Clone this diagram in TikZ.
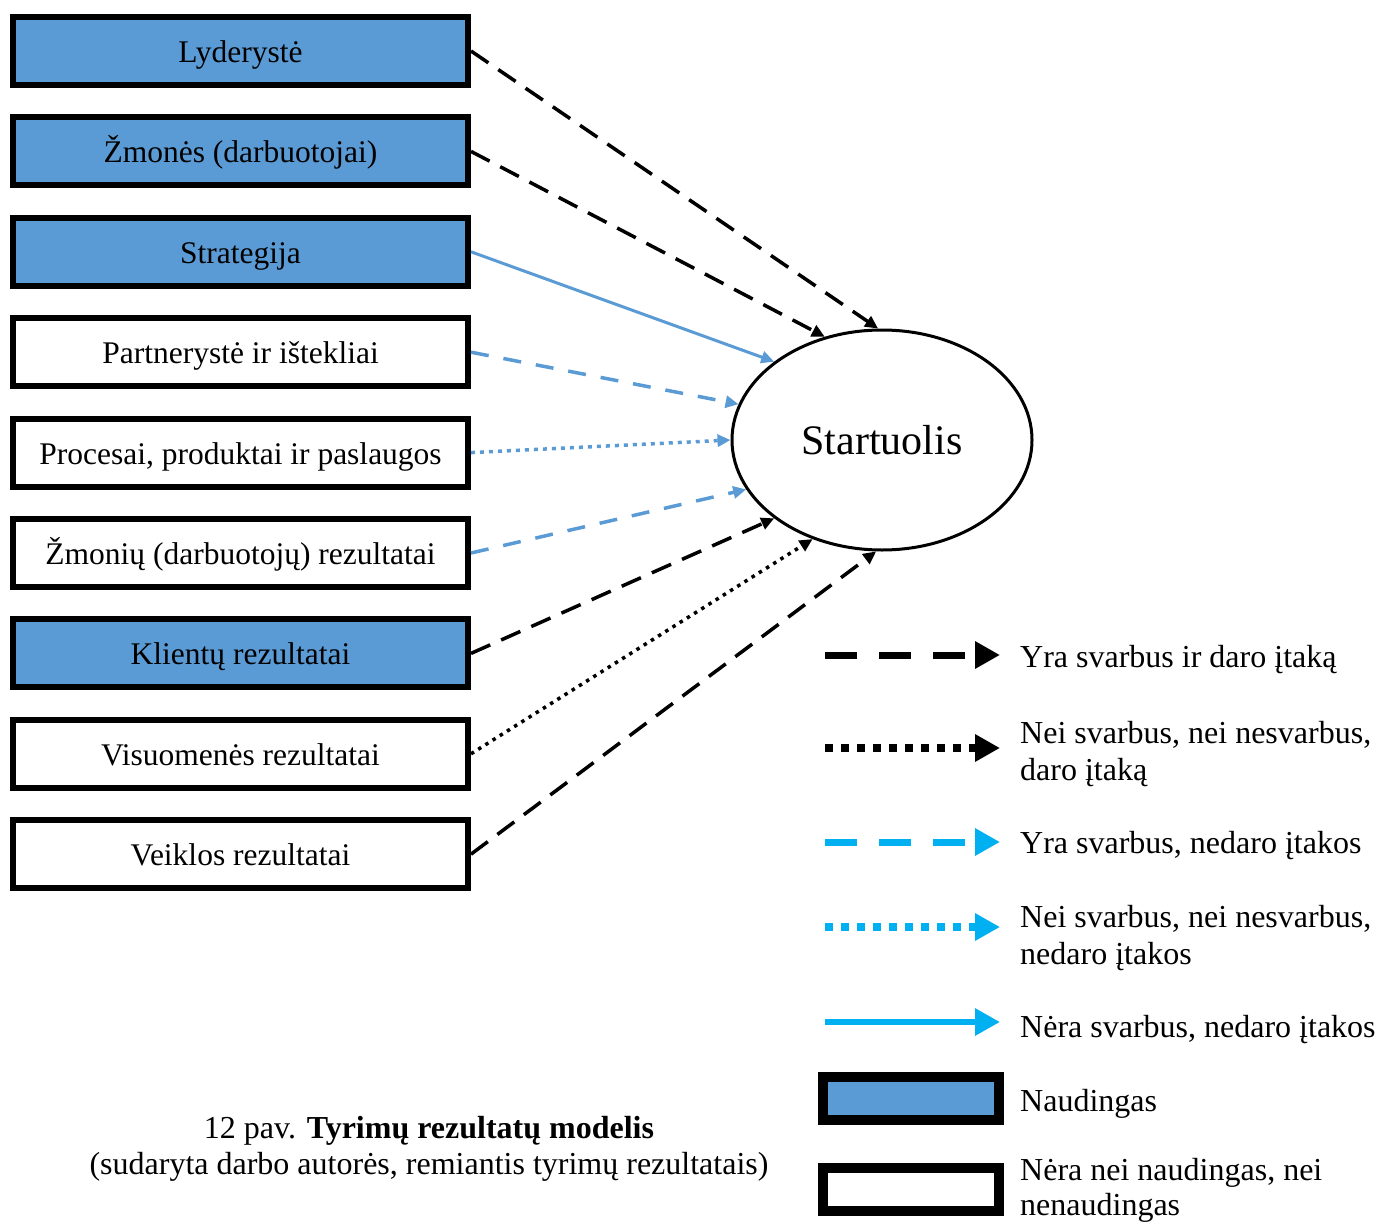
\documentclass[tikz,border=0pt]{standalone}
\usepackage{fontspec}
\setmainfont{Liberation Serif}
\usetikzlibrary{arrows.meta,shapes.geometric}
\definecolor{boxblue}{HTML}{5B9BD5}
\definecolor{linkblue}{HTML}{5B9BD5}
\definecolor{keyblue}{HTML}{00B0F0}
\begin{document}
\begin{tikzpicture}[x=1pt,y=-1pt,
  factor/.style={draw=black, line width=6pt, rectangle, minimum width=455pt,
    minimum height=68pt, inner sep=0pt, text height=29pt, text depth=6pt,
    font=\fontsize{31.5}{36}\selectfont},
  useful/.style={factor, fill=boxblue},
  neutral/.style={factor, fill=white},
  startup/.style={draw=black, line width=3pt, ellipse, minimum width=300pt,
    minimum height=220pt, inner sep=0pt, font=\fontsize{42}{48}\selectfont},
  tipsmall/.style={-{Triangle[length=13pt,width=12pt]}},
  impdash/.style={tipsmall, draw=black, line width=3.5pt, dash pattern=on 21pt off 12pt},
  impdot/.style={tipsmall, draw=black, line width=3.5pt, dash pattern=on 3.5pt off 5pt},
  nodash/.style={tipsmall, draw=linkblue, line width=3.5pt, dash pattern=on 18pt off 15pt},
  nodot/.style={tipsmall, draw=linkblue, line width=3.5pt, dash pattern=on 4pt off 5pt},
  nosolid/.style={tipsmall, draw=linkblue, line width=3pt},
  tipbig/.style={-{Triangle[length=25pt,width=26pt]}},
  keyline/.style={tipbig, line width=7pt},
  keytext/.style={anchor=west, align=left, inner sep=0pt,
    font=\fontsize{32}{37}\selectfont},
  keybox/.style={draw=black, line width=10pt, rectangle, minimum width=176pt,
    minimum height=43pt, inner sep=0pt}
]
\useasboundingbox (0,0) rectangle (1378,1225);

% factor boxes
\node[useful]  (b1) at (240.5,51)    {Lyderystė};
\node[useful]  (b2) at (240.5,151.4) {Žmonės (darbuotojai)};
\node[useful]  (b3) at (240.5,251.8) {Strategija};
\node[neutral] (b4) at (240.5,352.2) {Partnerystė ir ištekliai};
\node[neutral] (b5) at (240.5,452.6) {Procesai, produktai ir paslaugos};
\node[neutral] (b6) at (240.5,553)   {Žmonių (darbuotojų) rezultatai};
\node[useful]  (b7) at (240.5,653.4) {Klientų rezultatai};
\node[neutral] (b8) at (240.5,753.8) {Visuomenės rezultatai};
\node[neutral] (b9) at (240.5,854.2) {Veiklos rezultatai};

% central node
\node[startup] (st) at (882,440) {\raisebox{-2pt}{Startuolis}};

% connectors
\draw[impdash] (b1.east) -- (st.92);
\draw[impdash] (b2.east) -- (st.119);
\draw[nosolid] (b3.east) -- (st.144);
\draw[nodash]  (b4.east) -- (st.166);
\draw[nodot]   (b5.east) -- (st.180);
\draw[nodash]  (b6.east) -- (st.200);
\draw[impdash] (b7.east) -- (st.216);
\draw[impdot]  (b8.east) -- (st.235);
\draw[impdash] (b9.east) -- (st.267);

% legend
\coordinate (k1a) at (825,655);  \coordinate (k1b) at (1000,655);
\coordinate (k2a) at (825,748);  \coordinate (k2b) at (1000,748);
\coordinate (k3a) at (825,842);  \coordinate (k3b) at (1000,842);
\coordinate (k4a) at (825,927);  \coordinate (k4b) at (1000,927);
\coordinate (k5a) at (825,1022); \coordinate (k5b) at (1000,1022);
\draw[keyline, draw=black, dash pattern=on 32pt off 22pt] (k1a) -- (k1b);
\draw[keyline, draw=black, line width=8pt, dash pattern=on 8pt off 8pt] (k2a) -- (k2b);
\draw[keyline, draw=keyblue, dash pattern=on 32pt off 22pt] (k3a) -- (k3b);
\draw[keyline, draw=keyblue, line width=8pt, dash pattern=on 8pt off 8pt] (k4a) -- (k4b);
\draw[keyline, draw=keyblue, line width=6pt] (k5a) -- (k5b);
\node[keybox, fill=boxblue] (kb1) at (911,1098.5) {};
\node[keybox, fill=white]   (kb2) at (911,1189) {};

\node[keytext] (t1) at (1020,660)  {Yra svarbus ir daro įtaką};
\node[keytext] (t2) at (1020,754)  {Nei svarbus, nei nesvarbus,\\daro įtaką};
\node[keytext] (t3) at (1020,846)  {Yra svarbus, nedaro įtakos};
\node[keytext] (t4) at (1020,938)  {Nei svarbus, nei nesvarbus,\\nedaro įtakos};
\node[keytext] (t5) at (1020,1030) {Nėra svarbus, nedaro įtakos};
\node[keytext] (t6) at (1020,1104) {Naudingas};
\node[keytext, font=\fontsize{32}{35}\selectfont] (t7) at (1020,1190) {Nėra nei naudingas, nei\\nenaudingas};

% caption
\node[align=center, inner sep=0pt, font=\fontsize{32}{36}\selectfont] (cap) at (429,1149)
  {12 pav. \textbf{Tyrimų rezultatų modelis}\\(sudaryta darbo autorės, remiantis tyrimų rezultatais)};
\end{tikzpicture}
\end{document}
